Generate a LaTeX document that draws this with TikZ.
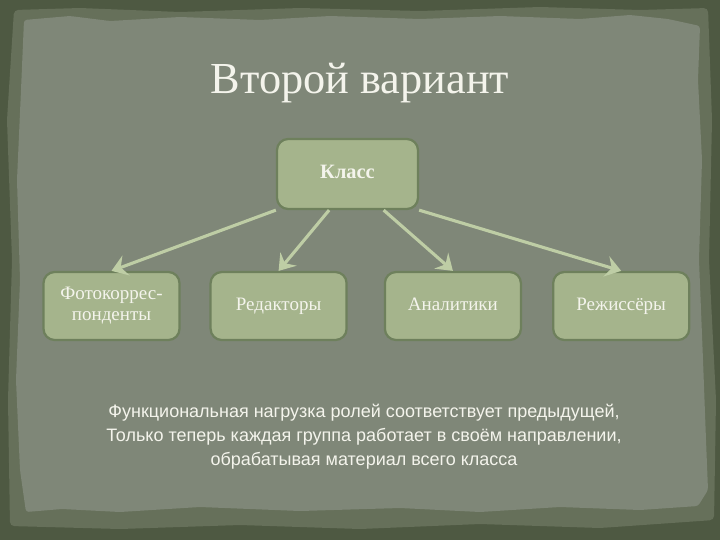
\documentclass[tikz,border=0pt]{standalone}
\usepackage{fontspec}
\setmainfont{Liberation Serif}
\newfontfamily\bodyfont{Liberation Sans}
\usepackage{tikz}
\usetikzlibrary{positioning, arrows.meta}
\definecolor{frame}{HTML}{4E5942}
\definecolor{halo}{HTML}{66705A}
\definecolor{paper}{HTML}{7F8778}
\definecolor{boxfill}{HTML}{A5B48C}
\definecolor{boxline}{HTML}{6E805C}
\definecolor{arrowcol}{HTML}{BECDA5}
\definecolor{txt}{HTML}{F4F4EC}
\tikzset{
role/.style={draw=boxline, line width=1.6pt, fill=boxfill, rounded corners=0.28cm,
  minimum width=3.4cm, minimum height=1.7cm, align=center, text=txt,
  font=\fontsize{13.5}{15}\selectfont}, % the four group boxes
oneline/.style={text height=1.75ex, text depth=0.35ex}, % same baseline for one-line labels
link/.style={draw=arrowcol, line width=2.2pt, -{Stealth[length=11pt, width=15pt, inset=4pt]}}, % the light arrows
}
\begin{document}
\begin{tikzpicture}[x=0.025cm, y=-0.025cm]
\useasboundingbox (0,0) rectangle (720,540);
% background board
\fill[frame] (0,0) rectangle (720,540);
\fill[halo, rounded corners=3pt] (14,10) -- (80,8) -- (180,12) -- (300,8) -- (420,11) -- (540,7) -- (640,10) -- (708,8)
  -- (712,120) -- (709,260) -- (716,400) -- (714,520) -- (600,528) -- (480,524) -- (360,529) -- (240,525) -- (120,529) -- (10,526)
  -- (8,400) -- (12,260) -- (7,120) -- cycle;
\fill[paper, rounded corners=2pt] (24,20) -- (70,16) -- (110,21) -- (180,17) -- (260,20) -- (330,16) -- (420,19) -- (500,16)
  -- (580,19) -- (630,15) -- (668,19) -- (700,26) -- (698,80) -- (702,160) -- (699,260) -- (703,360) -- (706,440) -- (708,490)
  -- (698,506) -- (640,510) -- (560,507) -- (480,512) -- (400,508) -- (300,511) -- (200,507) -- (120,512) -- (62,509) -- (26,512)
  -- (20,470) -- (16,380) -- (20,280) -- (17,180) -- (21,90) -- cycle;

\node[text=txt, font=\fontsize{31.5}{34}\selectfont] (title) at (360,83) {Второй вариант};

\node[role, oneline, minimum width=3.525cm, minimum height=1.75cm, font=\bfseries\fontsize{14.5}{16}\selectfont] (klass) at (347.5,174) {Класс};
\node[role] (foto) at (111.5,306) {Фотокоррес-\\понденты};
\node[role, oneline, right=0.72cm of foto] (red) {Редакторы};
\node[role, oneline, right=0.9cm of red] (anal) {Аналитики};
\node[role, oneline, right=0.75cm of anal] (rezh) {Режиссёры};

\draw[link] (klass.south west) -- (foto.north);
\draw[link] (klass.243) -- (red.north);
\draw[link] (klass.315) -- (anal.north);
\draw[link] (klass.south east) -- (rezh.north);

\node[text=txt, align=center, font=\bodyfont\fontsize{12.8}{17}\selectfont] (note) at (364,437)
  {Функциональная нагрузка ролей соответствует предыдущей,\\Только теперь каждая группа работает в своём направлении,\\обрабатывая материал всего класса};
\end{tikzpicture}
\end{document}
